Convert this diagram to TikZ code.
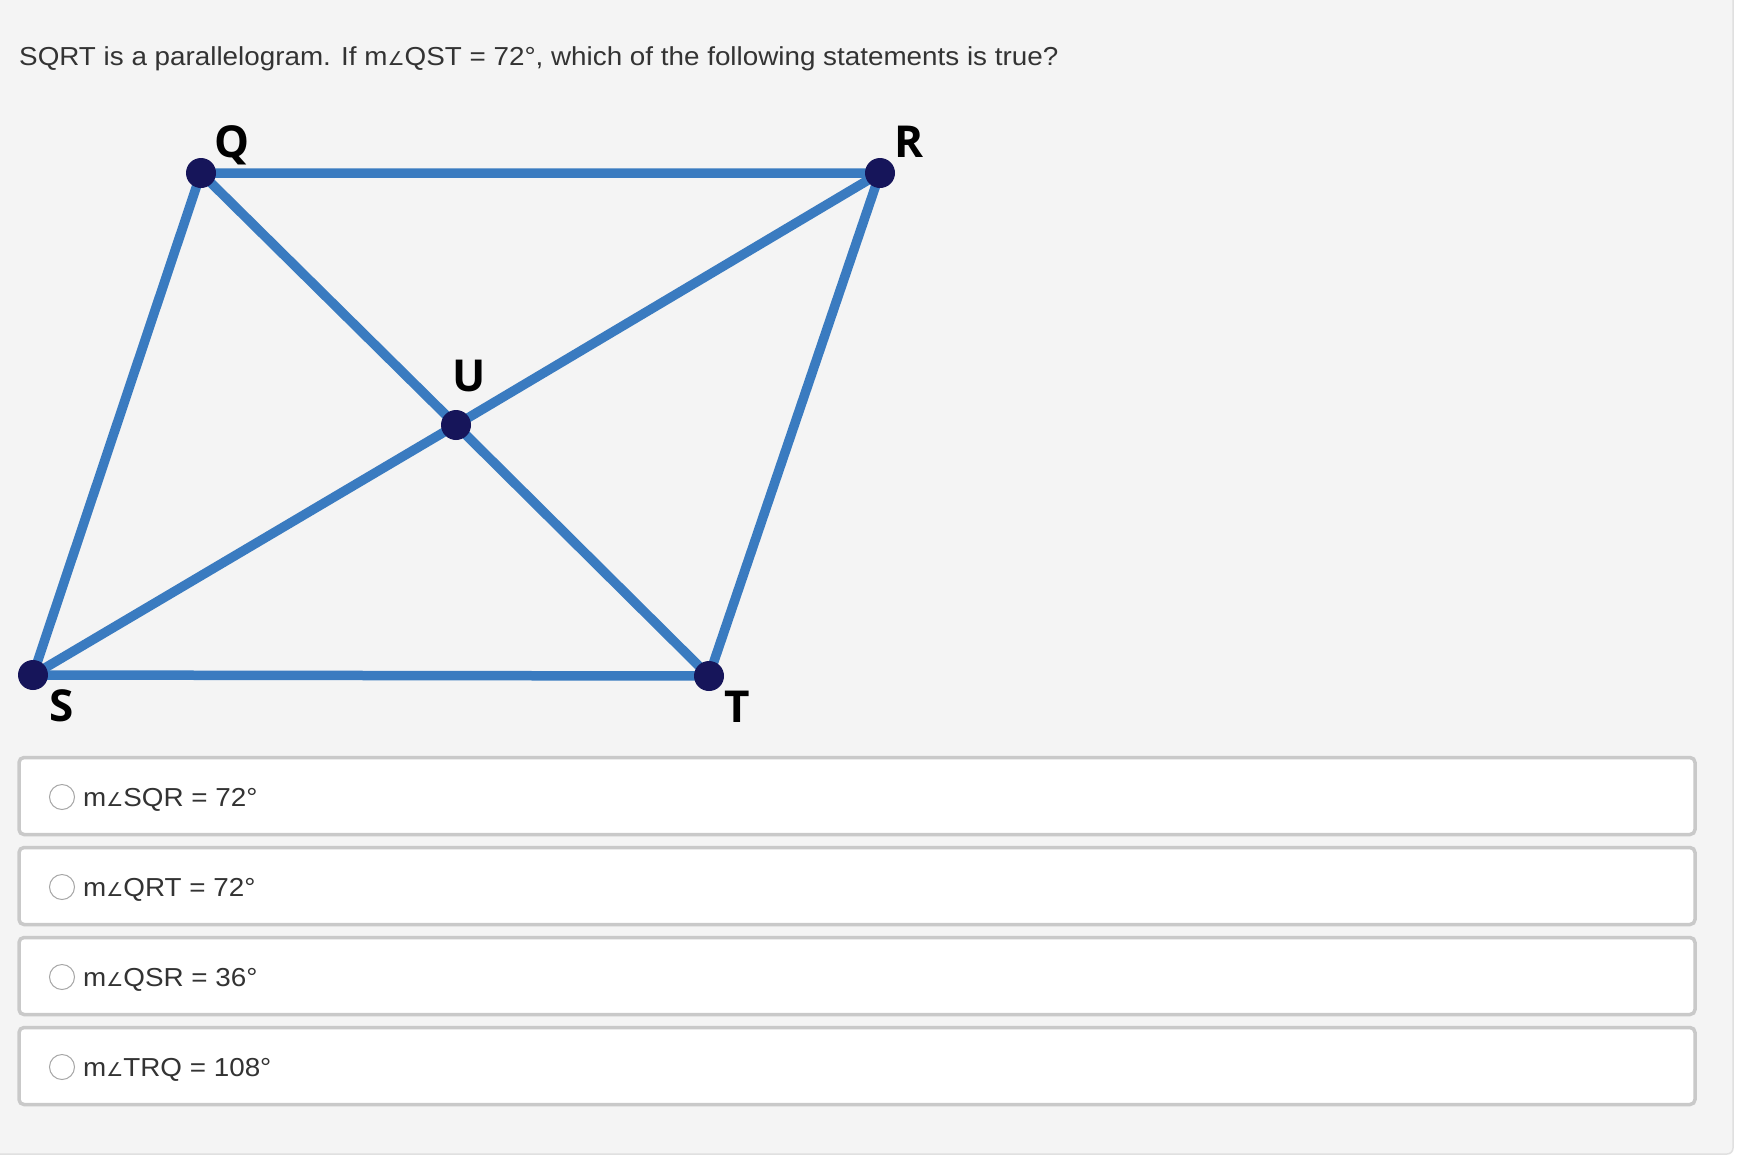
\documentclass[tikz,border=0pt]{standalone}
\usepackage{fontspec}
\setmainfont{Liberation Sans}[FakeStretch=1.07]
\newfontfamily\symfont{DejaVu Sans}
\newfontfamily\labfont{Open Sans}
\usetikzlibrary{positioning,backgrounds}
\definecolor{edgeblue}{HTML}{3A7BC0}
\definecolor{dotnavy}{HTML}{16155A}
\definecolor{panelgray}{HTML}{F4F4F4}
\definecolor{boxgray}{HTML}{C9C9C9}
\definecolor{txtgray}{HTML}{333333}
\newcommand{\angsym}{{\symfont\fontsize{19}{19}\selectfont ∠}}

\begin{document}
\begin{tikzpicture}
[x=1pt,y=-1pt,
    vert/.style={circle,fill=dotnavy,inner sep=0pt,minimum size=30pt},
    side/.style={edgeblue,line width=9.5pt},
    vlab/.style={font=\labfont\bfseries\fontsize{44}{44}\selectfont,inner sep=0pt,anchor=base},
    choice/.style={draw=boxgray,line width=3.5pt,fill=white,rounded corners=5pt,
        minimum width=1676pt,minimum height=77pt,inner sep=0pt},
    radio/.style={circle,draw=black!35,fill=white,line width=1pt,minimum size=25pt,inner sep=0pt},
    opt/.style={font=\fontsize{26}{26}\selectfont,text=txtgray,anchor=base west,inner sep=0pt}]
%%%%%%%%%%
\useasboundingbox (0,0) rectangle (1740,1168);
%% question
\node (title) [opt] at (19,65) {SQRT is a parallelogram. If m\angsym QST = 72°, which of the following statements is true?};
%%
%% the parallelogram
\node (Q) [vert] at (201,173) {};
\node (R) [vert] at (880,173) {};
\node (S) [vert] at (33,675) {};
\node (T) [vert] at (709,676) {};
\node (U) [vert] at (456,425) {};
\node (lQ) [vlab] at (232,157) {Q};
\node (lR) [vlab] at (909,157) {R};
\node (lU) [vlab] at (469,391) {U};
\node (lS) [vlab] at (62,721) {S};
\node (lT) [vlab] at (737,722) {T};
\begin{scope}[on background layer]
\fill[white] (0,0) rectangle (1740,1168);
\draw[fill=panelgray,draw=black!12,line width=1.5pt,rounded corners=6pt] (-20,-20) rectangle (1733,1154);
\draw[side] (Q.center) -- (R.center) -- (T.center) -- (S.center) -- cycle;
\draw[side] (Q.center) -- (U.center) -- (T.center);
\draw[side] (S.center) -- (U.center) -- (R.center);
\end{scope}
%%
%% answer choices
\node (box1) [choice] at (857,796) {};
\node (box2) [choice] at (857,886) {};
\node (box3) [choice] at (857,976) {};
\node (box4) [choice] at (857,1066) {};
\node (rad1) [radio] at (62,797) {};
\node (rad2) [radio] at (62,887) {};
\node (rad3) [radio] at (62,977) {};
\node (rad4) [radio] at (62,1067) {};
\node (opt1) [opt] at (83,806) {m\angsym SQR = 72°};
\node (opt2) [opt] at (83,896) {m\angsym QRT = 72°};
\node (opt3) [opt] at (83,986) {m\angsym QSR = 36°};
\node (opt4) [opt] at (83,1076) {m\angsym TRQ = 108°};
\end{tikzpicture}
\end{document}
